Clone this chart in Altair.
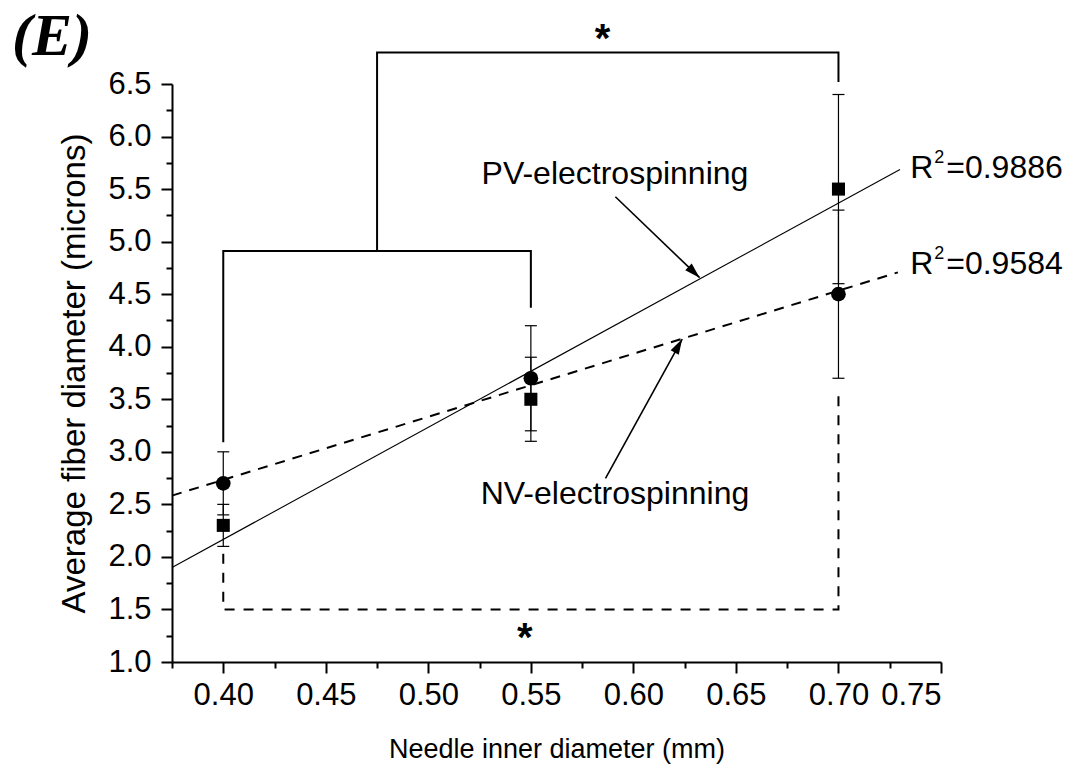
import altair as alt
import pandas as pd

# ---- data ----
needle = [0.40, 0.55, 0.70]
pv_mean = [2.3, 3.5, 5.5]     # squares, solid fit
pv_err = [0.2, 0.4, 0.9]
nv_mean = [2.7, 3.7, 4.5]     # circles, dashed fit
nv_err = [0.3, 0.5, 0.8]

pv_fit_extent = [0.375, 0.730]
nv_fit_extent = [0.375, 0.729]

x_major = [0.40, 0.45, 0.50, 0.55, 0.60, 0.65, 0.70, 0.75]
x_minor = [0.375, 0.425, 0.475, 0.525, 0.575, 0.625, 0.675, 0.725]
y_major = [1.0, 1.5, 2.0, 2.5, 3.0, 3.5, 4.0, 4.5, 5.0, 5.5, 6.0, 6.5]
y_minor = [1.25, 1.75, 2.25, 2.75, 3.25, 3.75, 4.25, 4.75, 5.25, 5.75, 6.25]

bracket_x = [0.70, 0.70, 0.475, 0.475, 0.40, 0.40, 0.55, 0.55, 0.40, 0.40, 0.70, 0.70]
bracket_y = [6.52, 6.80, 6.80, 4.91, 3.09, 4.91, 4.91, 4.37, 2.03, 1.50, 1.50, 3.60]
bracket_id = ["top"] * 4 + ["inner"] * 4 + ["bottom"] * 4

star_x = [0.585, 0.547]
star_y = [6.92, 1.22]

label_text = ["PV-electrospinning", "NV-electrospinning"]
label_x = [0.591, 0.591]
label_y = [5.64, 2.60]

arrow_x = [0.5912, 0.5864]
arrow_y = [5.427, 2.748]
arrow_x2 = [0.6323, 0.6238]
arrow_y2 = [4.657, 4.073]

r2_text = ["=0.9886", "=0.9584"]
r2_x = [0.735, 0.735]
r2_y = [5.70, 4.787]

# ---- tables ----
pv = pd.DataFrame({"x": needle, "y": pv_mean, "err": pv_err})
nv = pd.DataFrame({"x": needle, "y": nv_mean, "err": nv_err})
brackets = pd.DataFrame({"x": bracket_x, "y": bracket_y, "g": bracket_id,
                         "o": list(range(len(bracket_x)))})
stars = pd.DataFrame({"x": star_x, "y": star_y, "t": ["*", "*"]})
labels = pd.DataFrame({"x": label_x, "y": label_y, "t": label_text})
arrows = pd.DataFrame({"x": arrow_x, "y": arrow_y, "x2": arrow_x2, "y2": arrow_y2})
r2 = pd.DataFrame({"x": r2_x, "y": r2_y, "t": r2_text})

FONT = "Liberation Sans"
xs = alt.Scale(domain=[0.375, 0.75], nice=False, zero=False)
ys = alt.Scale(domain=[1.0, 6.5], nice=False, zero=False)

def X(field="x", axis=None):
    return alt.X(f"{field}:Q", scale=xs, axis=axis)

def Y(field="y", axis=None):
    return alt.Y(f"{field}:Q", scale=ys, axis=axis)

x_axis = alt.Axis(values=x_major, format=".2f", title="Needle inner diameter (mm)",
                  tickSize=11, tickWidth=2, domainWidth=2, labelFontSize=31,
                  labelPadding=7, titleFontSize=27, titlePadding=26, grid=False,
                  orient="bottom")
y_axis = alt.Axis(values=y_major, format=".1f", title="Average fiber diameter (microns)",
                  tickSize=11, tickWidth=2, domainWidth=2, labelFontSize=31,
                  labelPadding=10, titleFontSize=33, titlePadding=16, grid=False,
                  orient="left")
x_minor_axis = alt.Axis(values=x_minor, labels=False, domain=False, tickSize=6,
                        tickWidth=2, title=None, grid=False, orient="bottom")
y_minor_axis = alt.Axis(values=y_minor, labels=False, domain=False, tickSize=6,
                        tickWidth=2, title=None, grid=False, orient="left")

def errbars(df):
    base = alt.Chart(df).transform_calculate(lo="datum.y - datum.err", hi="datum.y + datum.err")
    rule = base.mark_rule(color="black", strokeWidth=1.2).encode(x=X(), y=Y("lo"), y2="hi:Q")
    caps = base.transform_fold(["lo", "hi"], as_=["k", "v"]).mark_tick(
        orient="horizontal", size=12, thickness=1.2, color="black", opacity=1
    ).encode(x=X(), y=Y("v"))
    return rule + caps

fit_pv = alt.Chart(pv).transform_regression("x", "y", extent=pv_fit_extent).mark_line(
    color="black", strokeWidth=1.1).encode(x=X(), y=Y())
fit_nv = alt.Chart(nv).transform_regression("x", "y", extent=nv_fit_extent).mark_line(
    color="black", strokeWidth=2, strokeDash=[10, 8]).encode(x=X(), y=Y())

pts_pv = alt.Chart(pv).mark_point(shape="square", filled=True, color="black", opacity=1,
                                  size=170).encode(x=X(axis=x_axis), y=Y(axis=y_axis))
pts_nv = alt.Chart(nv).mark_point(shape="circle", filled=True, color="black", opacity=1,
                                  size=215).encode(x=X(), y=Y())
minor = alt.Chart(pv).mark_point(opacity=0).encode(x=X(axis=x_minor_axis), y=Y(axis=y_minor_axis))

br_solid = alt.Chart(brackets).transform_filter("datum.g != 'bottom'").mark_line(
    color="black", strokeWidth=2).encode(x=X(), y=Y(), detail="g:N", order="o:Q")
br_dash = alt.Chart(brackets).transform_filter("datum.g == 'bottom'").mark_line(
    color="black", strokeWidth=2, strokeDash=[10, 9]).encode(x=X(), y=Y(), order="o:Q")

star_txt = alt.Chart(stars).mark_text(font=FONT, fontSize=40, fontWeight="bold",
                                      baseline="middle", align="center", color="black").encode(
    x=X(), y=Y(), text="t:N")
lab_txt = alt.Chart(labels).mark_text(font=FONT, fontSize=32, baseline="middle",
                                      align="center", color="black").encode(
    x=X(), y=Y(), text="t:N")

arrow_lines = alt.Chart(arrows).mark_rule(color="black", strokeWidth=1.6).encode(
    x=X(), y=Y(), x2="x2:Q", y2="y2:Q")
HEAD = "M0,0L0.6,2L-0.6,2Z"
head_pv = alt.Chart(arrows.iloc[[0]]).mark_point(shape=HEAD, angle=134, filled=True,
                                                 color="black", opacity=1, size=240).encode(
    x=X("x2"), y=Y("y2"))
head_nv = alt.Chart(arrows.iloc[[1]]).mark_point(shape=HEAD, angle=29, filled=True,
                                                 color="black", opacity=1, size=240).encode(
    x=X("x2"), y=Y("y2"))

r_base = alt.Chart(r2)
r_R = r_base.mark_text(font=FONT, fontSize=32, baseline="middle", align="left",
                       color="black").encode(x=X(), y=Y(), text=alt.value("R"))
r_sup = r_base.mark_text(font=FONT, fontSize=18, baseline="middle", align="left",
                         color="black", dx=24, dy=-10).encode(x=X(), y=Y(), text=alt.value("2"))
r_val = r_base.mark_text(font=FONT, fontSize=32, baseline="middle", align="left",
                         color="black", dx=36).encode(x=X(), y=Y(), text="t:N")

chart = alt.layer(
    pts_pv, minor, fit_pv, fit_nv, errbars(pv), errbars(nv), pts_nv,
    br_solid, br_dash, star_txt, lab_txt, arrow_lines, head_pv, head_nv,
    r_R, r_sup, r_val,
).resolve_axis(x="independent", y="independent").properties(
    width=769, height=578,
    autosize=alt.AutoSizeParams(type="none"),
    padding={"left": 172, "top": 84, "right": 132, "bottom": 109},
    title=alt.TitleParams("(E)", anchor="start", frame="group",
                          font="Liberation Serif, Times New Roman, serif",
                          fontSize=60, fontWeight="bold", fontStyle="italic",
                          dx=-160, dy=69, offset=21, color="black"),
).configure_view(stroke=None).configure_axis(
    domainColor="black", tickColor="black", labelColor="black", titleColor="black",
    labelFont=FONT, titleFont=FONT, titleFontWeight="normal",
)

chart.save("out.html", embed_options={"renderer": "svg", "actions": False})
